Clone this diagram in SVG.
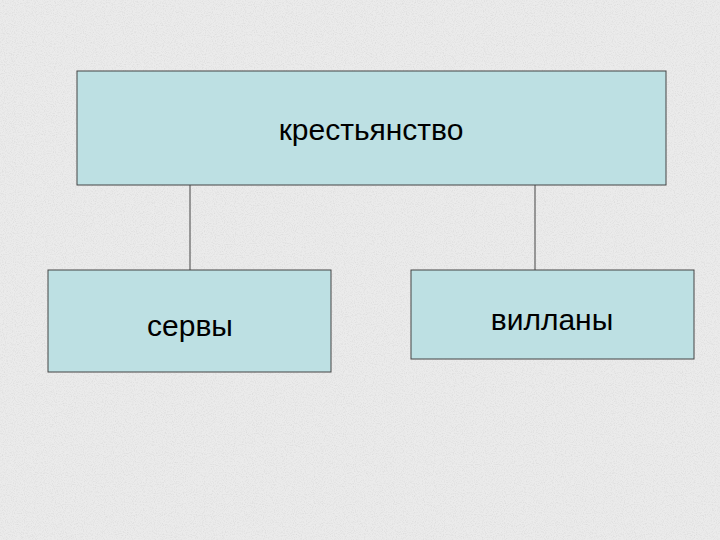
<svg xmlns="http://www.w3.org/2000/svg" width="720" height="540" viewBox="0 0 720 540">
<defs>
<filter id="grain" x="0" y="0" width="100%" height="100%">
<feTurbulence type="fractalNoise" baseFrequency="0.9" numOctaves="2" seed="3"/>
<feColorMatrix type="matrix" values="0 0 0 0 0.55  0 0 0 0 0.55  0 0 0 0 0.55  0 0 0 -1.6 0.9"/>
</filter>
</defs>
<style>
.box{fill:#bde0e3;stroke:#444;stroke-width:1}
.lbl{font-family:"Liberation Sans",Arial,sans-serif;font-size:30px;fill:#000;text-anchor:middle}
.conn{stroke:#444;stroke-width:1;fill:none}
</style>
<rect width="720" height="540" fill="#ebebeb"/>
<rect width="720" height="540" filter="url(#grain)" opacity="0.5"/>
<g id="connectors">
<line class="conn" x1="190" y1="185" x2="190" y2="270"/>
<line class="conn" x1="535" y1="185" x2="535" y2="270"/>
</g>
<g id="node-top">
<rect class="box" x="77" y="71" width="589" height="114"/>
<text class="lbl" x="371" y="140">крестьянство</text>
</g>
<g id="node-serfs">
<rect class="box" x="48" y="270" width="283" height="102"/>
<text class="lbl" x="190" y="336">сервы</text>
</g>
<g id="node-villeins">
<rect class="box" x="411" y="270" width="283" height="89"/>
<text class="lbl" x="552" y="330">вилланы</text>
</g>
</svg>
